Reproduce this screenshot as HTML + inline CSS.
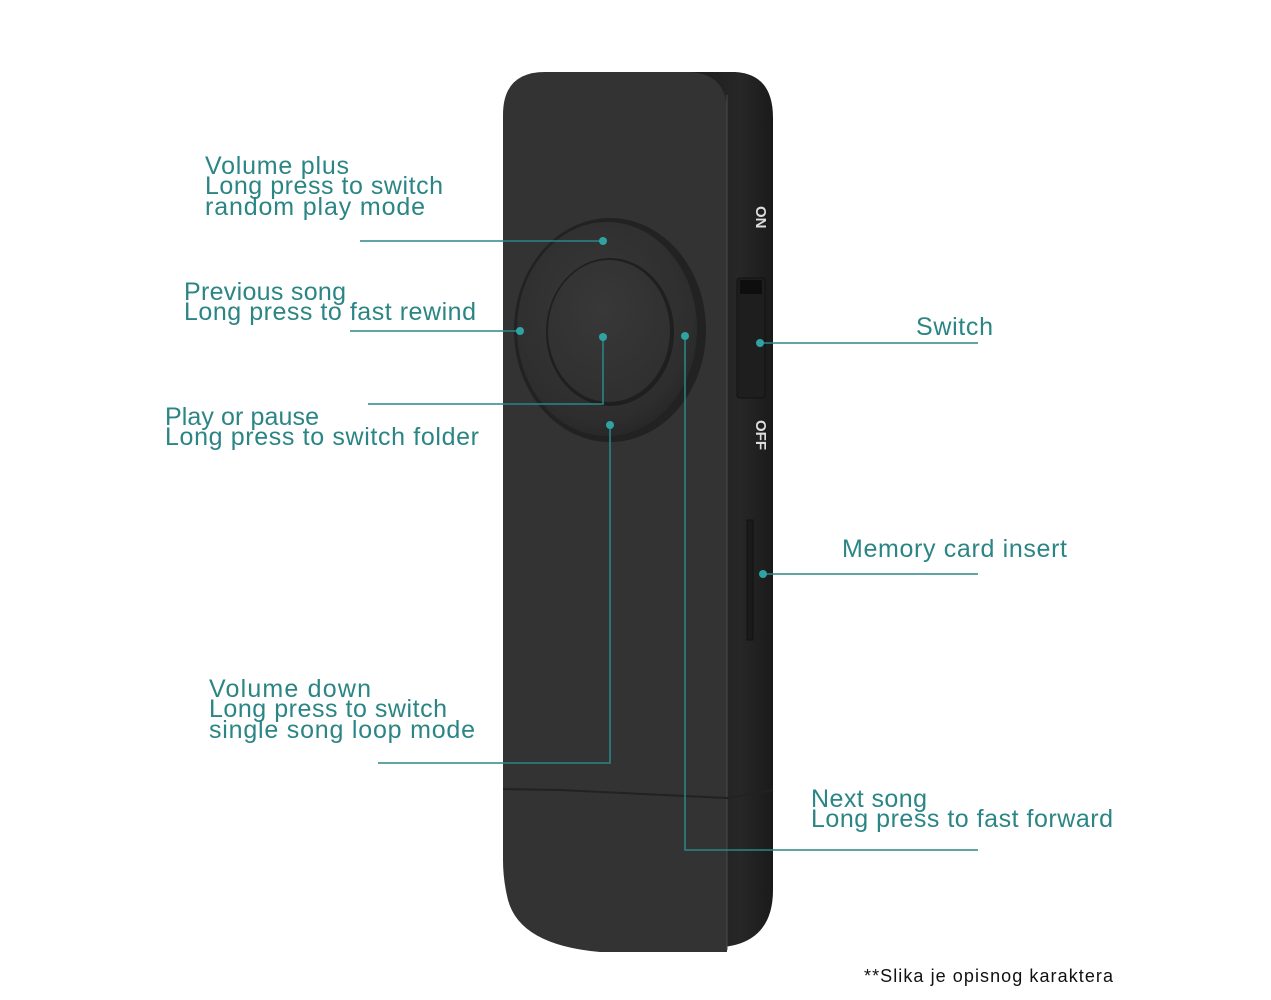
<!DOCTYPE html>
<html><head><meta charset="utf-8"><style>
html,body{margin:0;padding:0;background:#fff;}
svg{display:block;}
text{font-family:"Liberation Sans",sans-serif;}
.t{fill:#2b8585;font-size:25px;}
.l{stroke:#2b8585;stroke-width:1.6;fill:none;}
.d{fill:#2fa3a3;}
</style></head><body>
<svg width="1271" height="1000" viewBox="0 0 1271 1000">
<defs>
<linearGradient id="side" x1="0" x2="1"><stop offset="0" stop-color="#1c1c1c"/><stop offset="0.6" stop-color="#272727"/><stop offset="1" stop-color="#1a1a1a"/></linearGradient>
<radialGradient id="ring" cx="0.45" cy="0.4" r="0.65"><stop offset="0" stop-color="#383838"/><stop offset="0.8" stop-color="#2e2e2e"/><stop offset="1" stop-color="#252525"/></radialGradient>
<radialGradient id="btn" cx="0.45" cy="0.35" r="0.7"><stop offset="0" stop-color="#383838"/><stop offset="1" stop-color="#2f2f2f"/></radialGradient>
</defs>
<!-- side panel -->
<path d="M690 72 L735 72 Q773 74 773 118 L773 890 Q773 935 735 945 L700 952 L690 952 Z" fill="url(#side)"/>
<!-- front face -->
<path d="M545 72 L690 72 Q727 74 727 112 L727 952 L600 952 Q520 945 508 900 Q503 880 503 860 L503 115 Q503 72 545 72 Z" fill="#333333"/>
<line x1="727" y1="95" x2="727" y2="950" stroke="#4a4a4a" stroke-width="1"/>
<!-- seam -->
<path d="M503 789 L560 790 L727 798 L773 790" stroke="#222" stroke-width="2" fill="none"/>
<!-- wheel -->
<ellipse cx="610" cy="330" rx="96" ry="112" fill="#222"/>
<ellipse cx="607" cy="329" rx="90" ry="107" fill="url(#ring)"/>
<ellipse cx="610" cy="332" rx="64" ry="74" fill="#1f1f1f"/>
<ellipse cx="609" cy="331" rx="61" ry="71" fill="url(#btn)"/>
<!-- switch & slot -->
<rect x="737" y="278" width="28" height="120" rx="3" fill="#1e1e1e" stroke="#111"/>
<rect x="740" y="280" width="22" height="14" fill="#0e0e0e"/>
<rect x="747" y="520" width="6" height="120" fill="#1a1a1a" stroke="#111"/>
<text x="0" y="0" transform="translate(756,206) rotate(90)" fill="#ddd" font-size="15" font-weight="bold">ON</text>
<text x="0" y="0" transform="translate(756,420) rotate(90)" fill="#ddd" font-size="15" font-weight="bold">OFF</text>
<!-- connectors -->
<polyline class="l" points="360,241 603,241"/><circle class="d" cx="603" cy="241" r="4"/>
<polyline class="l" points="350,331 520,331"/><circle class="d" cx="520" cy="331" r="4"/>
<polyline class="l" points="368,404 603,404 603,337"/><circle class="d" cx="603" cy="337" r="4"/>
<polyline class="l" points="378,763 610,763 610,425"/><circle class="d" cx="610" cy="425" r="4"/>
<polyline class="l" points="978,850 685,850 685,336"/><circle class="d" cx="685" cy="336" r="4"/>
<polyline class="l" points="978,343 760,343"/><circle class="d" cx="760" cy="343" r="4"/>
<polyline class="l" points="978,574 763,574"/><circle class="d" cx="763" cy="574" r="4"/>
<!-- labels -->
<text class="t" x="205" y="174" textLength="144">Volume plus</text>
<text class="t" x="205" y="194" textLength="238">Long press to switch</text>
<text class="t" x="205" y="215" textLength="220">random play mode</text>
<text class="t" x="184" y="300" textLength="162">Previous song</text>
<text class="t" x="184" y="320" textLength="292">Long press to fast rewind</text>
<text class="t" x="165" y="425" textLength="154">Play or pause</text>
<text class="t" x="165" y="445" textLength="314">Long press to switch folder</text>
<text class="t" x="209" y="697" textLength="162">Volume down</text>
<text class="t" x="209" y="717" textLength="238">Long press to switch</text>
<text class="t" x="209" y="738" textLength="266">single song loop mode</text>
<text class="t" x="811" y="807" textLength="116">Next song</text>
<text class="t" x="811" y="827" textLength="302">Long press to fast forward</text>
<text class="t" x="916" y="335" textLength="77">Switch</text>
<text class="t" x="842" y="557" textLength="225">Memory card insert</text>
<text x="864" y="982" fill="#111" font-size="18" textLength="249">**Slika je opisnog karaktera</text>
</svg>
</body></html>
